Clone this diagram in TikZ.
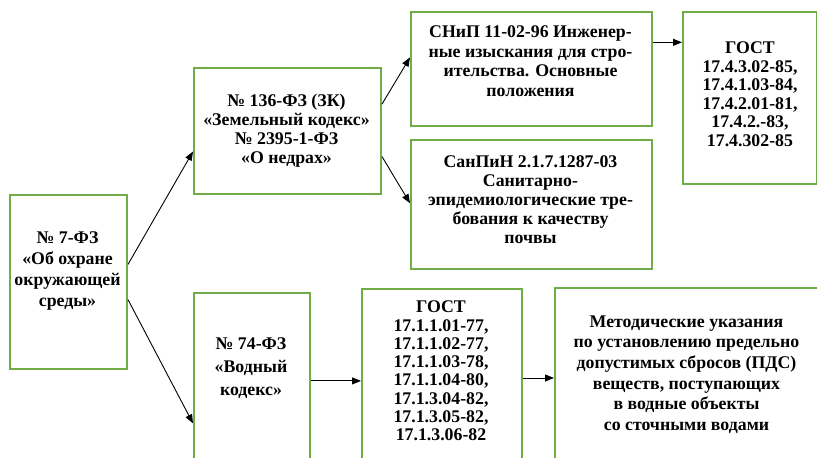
\documentclass[tikz,border=0pt]{standalone}
\usepackage{fontspec}
\setmainfont{Liberation Serif}[BoldFont={Liberation Serif Bold}]
\newfontfamily\tnrbold{Liberation Serif Bold}
\usetikzlibrary{arrows.meta,calc}
\definecolor{boxgreen}{RGB}{112,173,71}
\tikzset{
  boxnode/.style={draw=boxgreen,line width=2pt,fill=white,rectangle,inner sep=0pt,anchor=north west},
  txt/.style={align=center,inner sep=0pt,font=\tnrbold\fontsize{17.8}{#1}\selectfont},
  arr/.style={draw=black,line width=0.9pt,-{Triangle[length=9pt,width=7pt]}}
}
\begin{document}
\begin{tikzpicture}[x=1pt,y=-1pt]
\useasboundingbox (0,0) rectangle (817,458);
\clip (0,0) rectangle (817,458);
% boxes
\node[boxnode,minimum width=117pt,minimum height=174pt] (b1) at (9,194) {};
\node[boxnode,minimum width=187pt,minimum height=126pt] (b2) at (193,67) {};
\node[boxnode,minimum width=241pt,minimum height=114pt] (b3) at (410,11) {};
\node[boxnode,minimum width=241pt,minimum height=129pt] (b4) at (410,139) {};
\node[boxnode,minimum width=134pt,minimum height=172pt] (b5) at (682,11) {};
\node[boxnode,minimum width=116pt,minimum height=178pt] (b6) at (193,292) {};
\node[boxnode,minimum width=160pt,minimum height=182pt] (b7) at (361,288) {};
\node[boxnode,minimum width=300pt,minimum height=183pt] (b8) at (554,287) {};
% texts
\node[txt=21pt] (t1) at (67.5,271) {№ 7-ФЗ\\«Об охране\\окружающей\\среды»};
\node[txt=19pt] (t2) at (286.5,131) {№ 136-ФЗ (ЗК)\\«Земельный кодекс»\\№ 2395-1-ФЗ\\«О недрах»};
\node[txt=19.5pt] (t3) at (530.5,61) {СНиП 11-02-96 Инженер-\\ные изыскания для стро-\\ительства. Основные\\положения};
\node[txt=19pt] (t4) at (530.5,200) {СанПиН 2.1.7.1287-03\\Санитарно-\\эпидемиологические тре-\\бования к качеству\\почвы};
\node[txt=18.5pt] (t5) at (750,94) {ГОСТ\\17.4.3.02-85,\\17.4.1.03-84,\\17.4.2.01-81,\\17.4.2.-83,\\17.4.302-85};
\node[txt=23pt] (t6) at (251,368) {№ 74-ФЗ\\«Водный\\кодекс»};
\node[txt=18.3pt] (t7) at (441,371) {ГОСТ\\17.1.1.01-77,\\17.1.1.02-77,\\17.1.1.03-78,\\17.1.1.04-80,\\17.1.3.04-82,\\17.1.3.05-82,\\17.1.3.06-82};
\node[txt=20.6pt] (t8) at (686.5,374.5) {Методические указания\\по установлению предельно\\допустимых сбросов (ПДС)\\веществ, поступающих\\в водные объекты\\со сточными водами};
% connectors
\draw[arr] ($(b1.north east)!0.40!(b1.south east)$) -- ($(b2.north west)!0.66!(b2.south west)$);
\draw[arr] ($(b1.north east)!0.60!(b1.south east)$) -- ($(b6.north west)!0.73!(b6.south west)$);
\draw[arr] ($(b2.north east)!0.29!(b2.south east)$) -- ($(b3.north west)!0.40!(b3.south west)$);
\draw[arr] ($(b2.north east)!0.70!(b2.south east)$) -- ($(b4.north west)!0.49!(b4.south west)$);
\draw[arr] ($(b3.north east)!0.27!(b3.south east)$) coordinate (p3) -- (p3 -| b5.west);
\draw[arr] ($(b6.north east)!0.494!(b6.south east)$) coordinate (p6) -- (p6 -| b7.west);
\draw[arr] ($(b7.north east)!0.489!(b7.south east)$) coordinate (p7) -- (p7 -| b8.west);
\end{tikzpicture}
\end{document}
